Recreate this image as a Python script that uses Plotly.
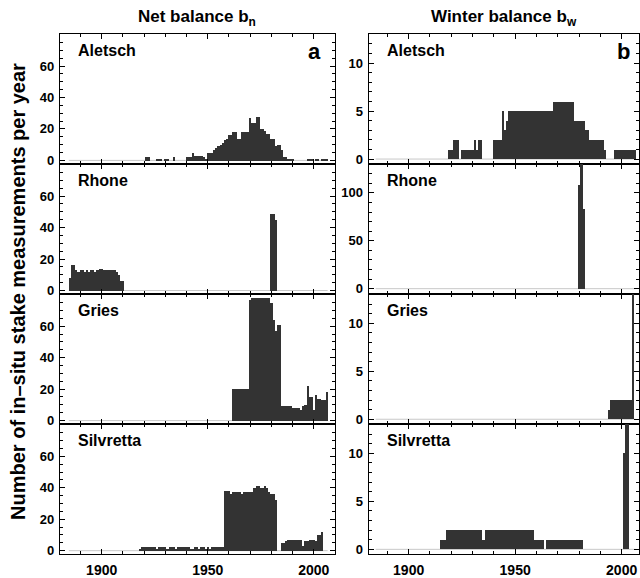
import plotly.graph_objects as go

W, H = 640, 578

# ---------------- data (measurements per year) ----------------
ALETSCH_BN_START = 1921
ALETSCH_BN = [2, 2, 0, 0, 0, 1, 1, 1, 0, 1, 1, 0, 0, 2, 0, 0, 0, 0, 0,
              2, 2, 2, 5, 3, 3, 3, 3, 2, 1,
              5, 5, 5, 7, 8, 9, 10, 11, 13, 14,
              16, 16, 18, 18, 14, 14, 18, 18, 18, 18,
              27, 24, 24, 28, 28, 20, 20, 19, 17, 17,
              14, 14, 9, 10, 10, 7, 2, 2, 1, 1,
              1, 0, 0, 0, 0, 0, 0, 1, 1, 1,
              0, 1, 1, 0, 1, 1, 1]

RHONE_BN_START = 1885
RHONE_BN = [8, 16, 16, 13, 12, 13, 13, 12, 13, 12, 13, 13, 12, 13, 14,
            14, 13, 13, 13, 13, 13, 13, 12, 10, 6, 6]
RHONE_BN2_START = 1980
RHONE_BN2 = [49, 49, 45]

GRIES_BN_START = 1962
GRIES_BN = [20, 20, 20, 20, 20, 20, 20, 20,
            77, 78, 78, 78, 78, 78, 78, 78, 78, 78,
            75, 64, 57, 61, 61,
            9, 9, 9, 9, 9, 8, 8, 8, 8, 7, 9, 10, 22, 15, 15,
            7, 16, 14, 14, 13, 13, 18]

SILVRETTA_BN_START = 1918
SILVRETTA_BN = [1, 2, 2, 2, 2, 2, 2, 2, 1, 2, 2, 2, 2, 1, 2, 2, 2, 1, 2, 2,
                2, 2, 2, 2, 1, 1, 2, 2, 1, 2, 2, 1, 2, 1, 2, 2, 2, 2, 2, 2,
                38, 38, 38, 36, 37, 37, 37, 37, 36, 37,
                37, 37, 37, 37, 40, 41, 41, 40, 40, 41,
                40, 37, 36, 36, 32, 0, 0, 5, 5, 6,
                7, 7, 7, 7, 7, 7, 7, 3, 6, 6,
                7, 7, 7, 6, 10, 10, 12]

ALETSCH_BW_START = 1919
ALETSCH_BW = [1, 1, 2, 2, 2, 0, 1, 1, 1, 1, 1, 1, 2, 1, 2, 2,
              0, 0, 0, 0, 0, 2, 2, 2, 2, 5, 3, 4,
              5, 5, 5, 5, 5, 5, 5, 5, 5, 5, 5, 5, 5, 5, 5, 5, 5, 5, 5, 5, 5,
              6, 6, 6, 6, 6, 6, 6, 6, 6, 6,
              4, 4, 4, 4, 4, 3, 3, 2, 2, 2, 2, 2, 2, 2, 1, 0, 0, 0, 0,
              1, 1, 1, 1, 1, 1, 1, 1, 1, 1]

RHONE_BW_START = 1980
RHONE_BW = [108, 140, 83]

GRIES_BW_START = 1994
GRIES_BW = [1, 2, 2, 2, 2, 2, 2, 2, 2, 2, 2, 16]

SILVRETTA_BW_START = 1915
SILVRETTA_BW = [1, 1, 1,
                2, 2, 2, 2, 2, 2, 2, 2, 2, 2, 2, 2, 2, 2, 2, 2, 2, 1, 2, 2,
                2, 2, 2, 2, 2, 2, 2, 2, 2, 2, 2, 2, 2, 2, 2, 2, 2, 2, 2, 2, 2,
                1, 1, 1, 1, 1, 0,
                1, 1, 1, 1, 1, 1, 1, 1, 1, 1, 1, 1, 1, 1, 1, 1, 1,
                0, 0, 0, 0, 0, 0, 0, 0, 0, 0, 0, 0, 0, 0, 0, 0, 0, 0, 0,
                10, 16, 16]

GLACIERS = ["Aletsch", "Rhone", "Gries", "Silvretta"]
COL_TITLES = ["Net balance b<sub>n</sub>", "Winter balance b<sub>w</sub>"]
PANEL_LETTERS = ["a", "b"]
X_TICKS = [1900, 1950, 2000]
Y_TICKS_LEFT = [0, 20, 40, 60]
Y_TICKS_SMALL = [0, 5, 10]
Y_TICKS_RHONE_W = [0, 50, 100]
Y_TITLE = "Number of in\u2013situ stake measurements per year"

# ---------------- layout geometry ----------------
BAR_COLOR = "#333333"
BASE_COLOR = "#c8c8c8"
FONT = "Liberation Sans, Arial, Helvetica, sans-serif"

col_px = [(60, 336), (369.3, 640)]
col_range = [(1880.3, 2010.2), (1881.25, 2008.15)]
row_px = [(34, 165), (165, 296), (296, 427), (427, 558)]

left_yr = dict(range=[-2.2, 80.5], ticks=Y_TICKS_LEFT, minor=5)
small_yr = dict(range=[-0.5, 13.05], ticks=Y_TICKS_SMALL, minor=1)
rhone_yr = dict(range=[-5.5, 130.3], ticks=Y_TICKS_RHONE_W, minor=10)

panels = [
    (0, 0, [(ALETSCH_BN_START, ALETSCH_BN)], left_yr),
    (0, 1, [(RHONE_BN_START, RHONE_BN), (RHONE_BN2_START, RHONE_BN2)], left_yr),
    (0, 2, [(GRIES_BN_START, GRIES_BN)], left_yr),
    (0, 3, [(SILVRETTA_BN_START, SILVRETTA_BN)], left_yr),
    (1, 0, [(ALETSCH_BW_START, ALETSCH_BW)], small_yr),
    (1, 1, [(RHONE_BW_START, RHONE_BW)], rhone_yr),
    (1, 2, [(GRIES_BW_START, GRIES_BW)], small_yr),
    (1, 3, [(SILVRETTA_BW_START, SILVRETTA_BW)], small_yr),
]


def px_x(x):
    return x / W


def px_y(y):
    return 1 - y / H


fig = go.Figure()
layout = dict(
    width=W, height=H, autosize=False,
    margin=dict(l=0, r=0, t=0, b=0),
    paper_bgcolor="white", plot_bgcolor="white",
    showlegend=False, bargap=0,
    font=dict(family=FONT, color="black"),
)
shapes = []
annotations = []

for i, (col, row, series, yset) in enumerate(panels, start=1):
    xa = "x" if i == 1 else f"x{i}"
    ya = "y" if i == 1 else f"y{i}"
    for start, vals in series:
        yrs = list(range(start, start + len(vals)))
        fig.add_trace(go.Bar(x=yrs, y=vals, width=1.0,
                             marker=dict(color=BAR_COLOR, line=dict(width=0)),
                             xaxis=xa, yaxis=ya, hoverinfo="x+y"))
    x0, x1 = col_px[col]
    y0, y1 = row_px[row]
    common = dict(showline=True, linecolor="black", linewidth=1.2, mirror="allticks",
                  ticks="inside", tickcolor="black", tickwidth=1, ticklen=5,
                  showgrid=False, zeroline=False)
    layout["xaxis" if i == 1 else f"xaxis{i}"] = dict(
        common, domain=[px_x(x0), px_x(x1)], range=list(col_range[col]), anchor=ya,
        tickmode="array", tickvals=X_TICKS, ticktext=[str(t) for t in X_TICKS],
        showticklabels=(row == 3),
        tickfont=dict(family=FONT, size=14, weight="bold"),
        ticklabelstandoff=3,
        minor=dict(dtick=10, tick0=1900, ticks="inside", ticklen=3, tickwidth=1, tickcolor="black"),
    )
    layout["yaxis" if i == 1 else f"yaxis{i}"] = dict(
        common, domain=[px_y(y1), px_y(y0)], range=yset["range"], anchor=xa,
        tickmode="array", tickvals=yset["ticks"], ticktext=[str(t) for t in yset["ticks"]],
        tickfont=dict(family=FONT, size=13, weight="bold"),
        ticklabelstandoff=2,
        minor=dict(dtick=yset["minor"], tick0=0, ticks="inside", ticklen=3, tickwidth=1, tickcolor="black"),
    )
    shapes.append(dict(type="line", xref=xa, yref=ya, x0=1884.5, x1=2006.5, y0=0, y1=0,
                       line=dict(color=BASE_COLOR, width=1), layer="below"))
    annotations.append(dict(text=f"<b>{GLACIERS[row]}</b>", xref="paper", yref="paper",
                            x=px_x(x0 + 16), y=px_y(y0 + 17), xanchor="left", yanchor="middle",
                            showarrow=False, font=dict(family=FONT, size=16, color="black")))
    if row == 0:
        annotations.append(dict(text=f"<b>{PANEL_LETTERS[col]}</b>", xref="paper", yref="paper",
                                x=px_x(x0 + 264), y=px_y(y0 + 18), xanchor="right", yanchor="middle",
                                showarrow=False, font=dict(family=FONT, size=22, color="black")))

annotations.append(dict(text=f"<b>{COL_TITLES[0]}</b>", xref="paper", yref="paper",
                        x=px_x(197), y=px_y(18), xanchor="center", yanchor="middle",
                        showarrow=False, font=dict(family=FONT, size=17, color="black")))
annotations.append(dict(text=f"<b>{COL_TITLES[1]}</b>", xref="paper", yref="paper",
                        x=px_x(505), y=px_y(18), xanchor="center", yanchor="middle",
                        showarrow=False, font=dict(family=FONT, size=17, color="black")))
annotations.append(dict(text=f"<b>{Y_TITLE}</b>", xref="paper", yref="paper",
                        x=px_x(18), y=px_y(293), xanchor="center", yanchor="middle", textangle=-90,
                        showarrow=False, font=dict(family=FONT, size=20, color="black")))

layout["shapes"] = shapes
layout["annotations"] = annotations
fig.update_layout(**layout)
fig.write_html("out.html",
               config={"displayModeBar": False},
               post_script="document.body.style.margin='0px';document.body.style.overflow='hidden';")
